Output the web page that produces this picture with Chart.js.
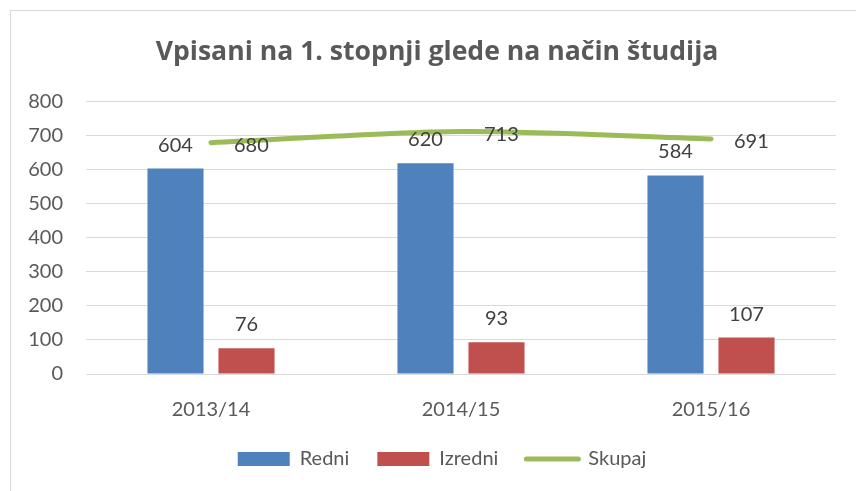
<!doctype html>
<html lang="sl">
<head>
<meta charset="utf-8">
<title>Vpisani na 1. stopnji</title>
<script src="https://cdn.jsdelivr.net/npm/chart.js"></script>
<style>
  html, body { margin: 0; padding: 0; background: #fff; overflow: hidden; }
  #wrap { position: relative; width: 856px; height: 491px; }
  #frame { position: absolute; left: 10px; top: 10px; width: 900px; height: 600px; border: 1px solid #d9d9d9; box-sizing: border-box; }
  #myChart { position: absolute; left: 0; top: 0; }
</style>
</head>
<body>
<div id="wrap">
  <div id="frame"></div>
  <canvas id="myChart" width="856" height="491"></canvas>
</div>
<script>
const categories = ['2013/14', '2014/15', '2015/16'];
const redni = [604, 620, 584];
const izredni = [76, 93, 107];
const skupaj = [680, 713, 691];
const yTicks = [0, 100, 200, 300, 400, 500, 600, 700, 800];

const FONT = 'Lato, "Open Sans", sans-serif';

// simple data labels (no datalabels plugin available)
const valueLabels = {
  id: 'valueLabels',
  afterDatasetsDraw(chart) {
    const ctx = chart.ctx;
    ctx.save();
    ctx.font = '20px ' + FONT;
    ctx.fillStyle = '#404040';
    ctx.textBaseline = 'alphabetic';
    chart.data.datasets.forEach((ds, i) => {
      const meta = chart.getDatasetMeta(i);
      meta.data.forEach((el, j) => {
        const v = ds.data[j];
        if (ds.type === 'line') {
          ctx.textAlign = 'left';
          ctx.fillText(v, el.x + 23, el.y + 9.5);
        } else {
          ctx.textAlign = 'center';
          ctx.fillText(v, el.x, el.y - 17);
        }
      });
    });
    ctx.restore();
  }
};

// title and legend sit a bit right of the canvas centre in the original
const shiftBlocks = {
  id: 'shiftBlocks',
  afterLayout(chart) {
    if (chart.titleBlock) chart.titleBlock.left = 38;
    if (chart.legend) chart.legend.left += 48;
  }
};

const myChart = new Chart(document.getElementById('myChart'), {
  type: 'bar',
  data: {
    labels: categories,
    datasets: [
      { label: 'Redni', data: redni, backgroundColor: '#4F81BD', order: 2,
        categoryPercentage: 0.568, barPercentage: 0.79 },
      { label: 'Izredni', data: izredni, backgroundColor: '#C0504D', order: 2,
        categoryPercentage: 0.568, barPercentage: 0.79 },
      { label: 'Skupaj', type: 'line', data: skupaj, borderColor: '#9BBB59', backgroundColor: '#9BBB59',
        borderWidth: 5, borderCapStyle: 'round', tension: 0.3, pointRadius: 0, order: 1 }
    ]
  },
  options: {
    responsive: false,
    animation: false,
    layout: { padding: { left: 0, right: 20, top: 0, bottom: 12 } },
    plugins: {
      tooltip: { enabled: false },
      title: {
        display: true,
        text: 'Vpisani na 1. stopnji glede na način študija',
        color: '#595959',
        font: { family: '"Open Sans", Lato, sans-serif', size: 26.6, weight: 'bold' },
        padding: { top: 36, bottom: 34 }
      },
      legend: {
        position: 'bottom',
        labels: {
          color: '#595959',
          font: { family: FONT, size: 20 },
          usePointStyle: true,
          pointStyleWidth: 52,
          boxHeight: 14,
          padding: 28,
          generateLabels(chart) {
            const items = Chart.defaults.plugins.legend.labels.generateLabels(chart);
            items.sort((a, b) => a.datasetIndex - b.datasetIndex);
            items.forEach(it => {
              const ds = chart.data.datasets[it.datasetIndex];
              if (ds.type === 'line') {
                it.pointStyle = 'line';
                it.lineWidth = 5;
                it.strokeStyle = ds.borderColor;
                it.lineCap = 'round';
              } else {
                it.pointStyle = 'rect';
                it.lineWidth = 0;
              }
            });
            return items;
          }
        }
      }
    },
    scales: {
      x: {
        afterFit(scale) { scale.height = 47; },
        grid: { display: false },
        border: { display: false },
        ticks: { color: '#595959', font: { family: FONT, size: 20 }, padding: 16 }
      },
      y: {
        min: 0,
        max: 800,
        afterBuildTicks(scale) { scale.ticks = yTicks.map(v => ({ value: v })); },
        afterFit(scale) { scale.width = 86; },
        grid: { color: '#d9d9d9', lineWidth: 1, drawTicks: false },
        border: { display: false },
        ticks: { color: '#595959', font: { family: FONT, size: 20 }, padding: 23 }
      }
    }
  },
  plugins: [valueLabels, shiftBlocks]
});
</script>
</body>
</html>
